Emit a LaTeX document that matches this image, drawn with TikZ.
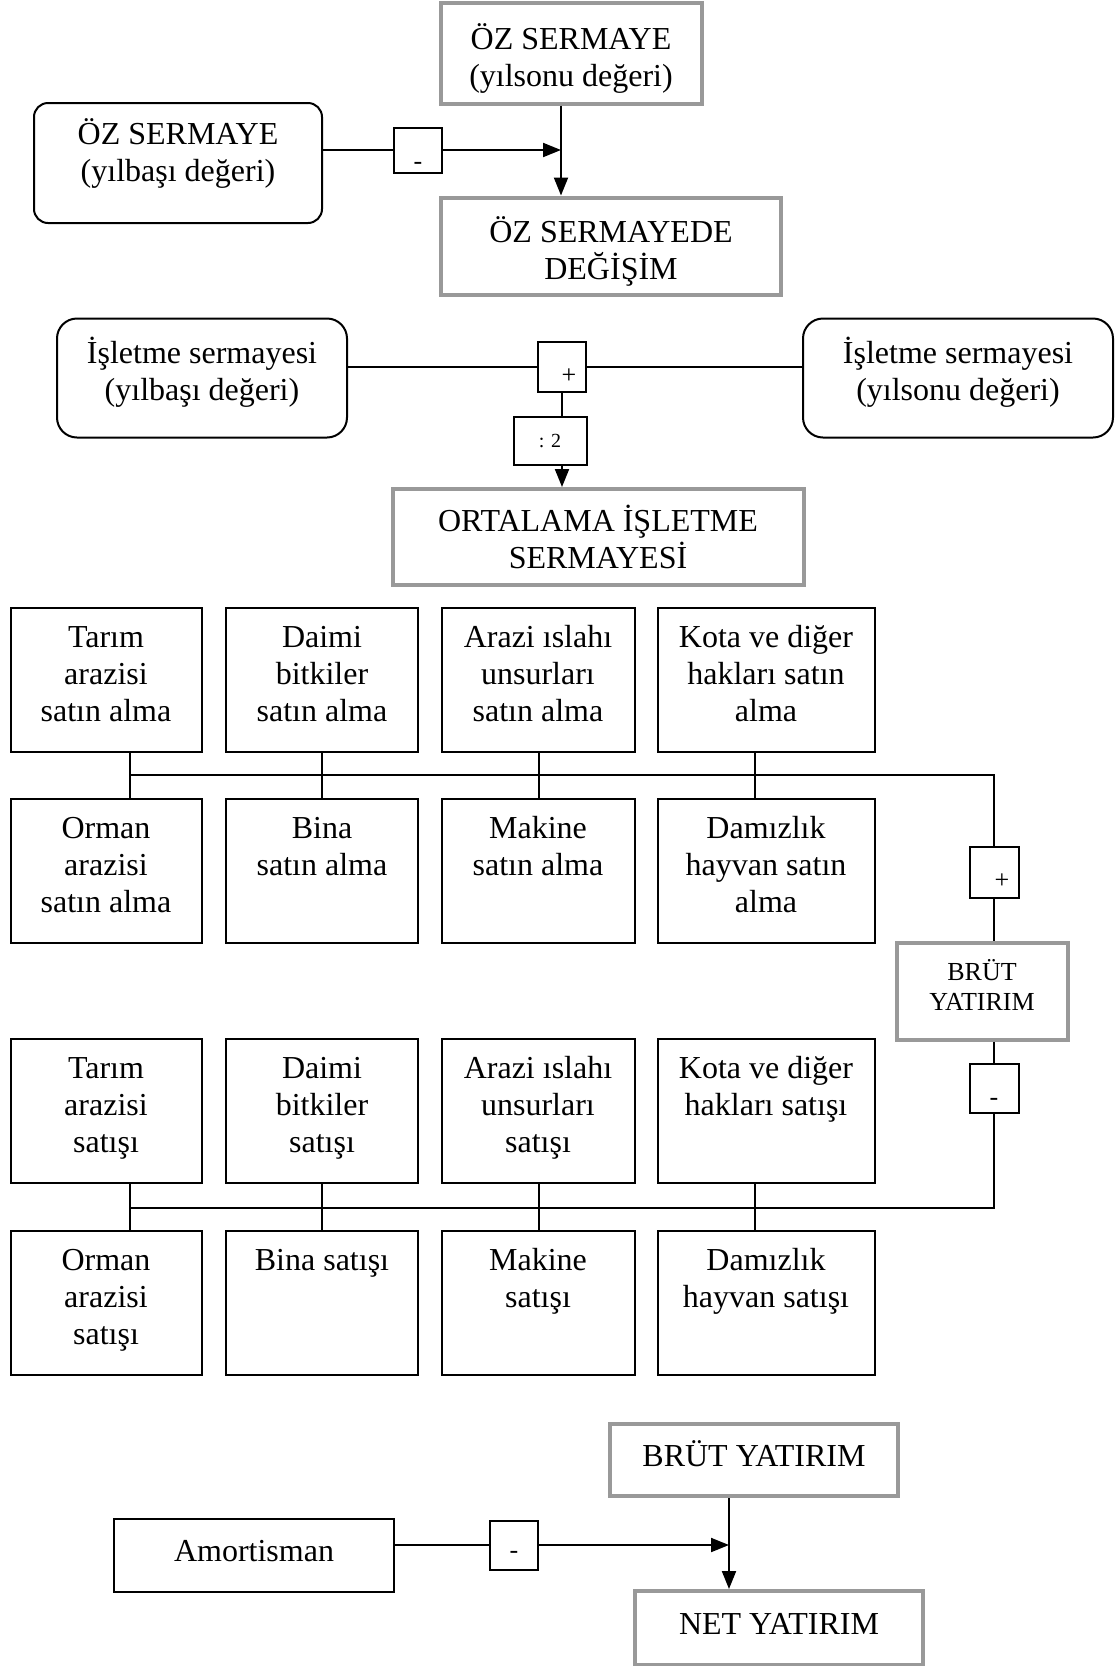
\documentclass[tikz,border=0pt]{standalone}
\usepackage{fontspec}
\setmainfont{Liberation Serif}
\usepackage{tikz}
\usetikzlibrary{arrows.meta}

\newcommand{\celltxt}[2]{\parbox[c][58pt][t]{#1}{\centering\strut #2}}
\newcommand{\signtxt}[3]{\smash{\raisebox{#2}{\kern#1 #3\kern-#1}}}

\begin{document}
\begin{tikzpicture}[x=0.5pt,y=-0.5pt,
        every node/.style={font=\fontsize{16}{18.5}\selectfont, align=center},
        graybox/.style={draw=black!40, line width=2pt, inner sep=0pt},
        roundbox/.style={draw, line width=1pt, rounded corners=7pt, inner sep=0pt},
        signbox/.style={draw, line width=1pt, fill=white, inner sep=0pt, minimum width=24pt, minimum height=24pt, font=\fontsize{13}{15}\selectfont},
        cell/.style={draw, line width=1pt, inner xsep=2pt, inner ysep=7pt, minimum height=72pt},
        oneline/.style={text height=11pt, text depth=4.2pt},
        link/.style={line width=1pt},
        arr/.style={line width=1pt, -{Triangle[length=9pt,width=7pt]}}]
        \useasboundingbox (0,0) rectangle (1115,1666);

        % oz sermaye
        \node[graybox, minimum width=130.5pt, minimum height=50.5pt] (ozson) at (571,53) {\mbox{}\\ÖZ SERMAYE\\(yılsonu değeri)};
        \node[roundbox, minimum width=144pt, minimum height=60pt] (ozbas) at (178,163) {ÖZ SERMAYE\\(yılbaşı değeri)\\[-5.6pt]\mbox{}};
        \node[signbox, minimum height=22.5pt] (m1) at (418,150) {\signtxt{0pt}{-9.7pt}{-}};
        \node[graybox, minimum width=170pt, minimum height=48.5pt] (ozdeg) at (611,246) {\mbox{}\\ÖZ SERMAYEDE\\DEĞİŞİM};
        \coordinate (j1) at (561,150);
        \draw[link] (m1.west -| ozbas.east) -- (m1.west);
        \draw[arr] (m1.east) -- (j1);
        \draw[arr] (ozson.south -| j1) -- (ozdeg.north -| j1);

        % isletme sermayesi
        \node[roundbox, rounded corners=10pt, minimum width=145pt, minimum height=59.5pt] (isbas) at (202,378) {İşletme sermayesi\\(yılbaşı değeri)\\[-9.6pt]\mbox{}};
        \node[roundbox, rounded corners=10pt, minimum width=155pt, minimum height=59.5pt] (isson) at (958,378) {İşletme sermayesi\\(yılsonu değeri)\\[-9.6pt]\mbox{}};
        \node[signbox, minimum height=25pt] (p1) at (562,367) {\signtxt{3.5pt}{-8.2pt}{+}};
        \node[signbox, minimum width=36.5pt, font=\fontsize{10}{12}\selectfont] (d2) at (550,441) {: 2};
        \node[graybox, minimum width=205.5pt, minimum height=48pt] (ortis) at (598,537) {ORTALAMA İŞLETME\\SERMAYESİ};
        \draw[link] (isbas.east |- p1.west) -- (p1.west);
        \draw[link] (p1.east) -- (isson.west |- p1.east);
        \draw[link] (p1.south) -- (p1.south |- d2.north);
        \draw[arr] (p1.south |- d2.south) -- (p1.south |- ortis.north);

        % alimlar, first row
        \node[cell, minimum width=95.5pt] (r1c1) at (106,680) {\celltxt{91pt}{Tarım\\arazisi\\satın alma}};
        \node[cell, minimum width=96pt] (r1c2) at (322,680) {\celltxt{92pt}{Daimi\\bitkiler\\satın alma}};
        \node[cell, minimum width=96.5pt] (r1c3) at (538,680) {\celltxt{92pt}{Arazi ıslahı\\unsurları\\satın alma}};
        \node[cell, minimum width=108.5pt] (r1c4) at (766,680) {\celltxt{104pt}{Kota ve diğer\\hakları satın\\alma}};
        % alimlar, sec row
        \node[cell, minimum width=95.5pt] (r2c1) at (106,871) {\celltxt{91pt}{Orman\\arazisi\\satın alma}};
        \node[cell, minimum width=96pt] (r2c2) at (322,871) {\celltxt{92pt}{Bina\\satın alma}};
        \node[cell, minimum width=96.5pt] (r2c3) at (538,871) {\celltxt{92pt}{Makine\\satın alma}};
        \node[cell, minimum width=108.5pt] (r2c4) at (766,871) {\celltxt{104pt}{Damızlık\\hayvan satın\\alma}};

        % brut yatirim on the right
        \node[signbox, minimum width=24.5pt, minimum height=25.5pt] (p2) at (994,872) {\signtxt{4pt}{-8.2pt}{+}};
        \node[graybox, minimum width=85.5pt, minimum height=48.5pt, font=\fontsize{13}{15}\selectfont] (brut1) at (982,991) {BRÜT\\YATIRIM\\[-9pt]\mbox{}};
        \node[signbox, minimum width=24.5pt, minimum height=24.5pt] (m2) at (994,1088) {\signtxt{0pt}{-8.7pt}{-}};

        % satislar, thrird row
        \node[cell, minimum width=95.5pt] (r3c1) at (106,1111) {\celltxt{91pt}{Tarım\\arazisi\\satışı}};
        \node[cell, minimum width=96pt] (r3c2) at (322,1111) {\celltxt{92pt}{Daimi\\bitkiler\\satışı}};
        \node[cell, minimum width=96.5pt] (r3c3) at (538,1111) {\celltxt{92pt}{Arazi ıslahı\\unsurları\\satışı}};
        \node[cell, minimum width=108.5pt] (r3c4) at (766,1111) {\celltxt{104pt}{Kota ve diğer\\hakları satışı}};
        % satislar, bottom row
        \node[cell, minimum width=95.5pt] (r4c1) at (106,1303) {\celltxt{91pt}{Orman\\arazisi\\satışı}};
        \node[cell, minimum width=96pt] (r4c2) at (322,1303) {\celltxt{92pt}{Bina satışı}};
        \node[cell, minimum width=96.5pt] (r4c3) at (538,1303) {\celltxt{92pt}{Makine\\satışı}};
        \node[cell, minimum width=108.5pt] (r4c4) at (766,1303) {\celltxt{104pt}{Damızlık\\hayvan satışı}};

        \foreach \i/\x in {1/130,2/322,3/539,4/755} {
            \coordinate (s\i) at (\x,775);
            \coordinate (t\i) at (\x,1208);
            \draw[link] (r1c\i.south -| s\i) -- (r2c\i.north -| s\i);
            \draw[link] (r3c\i.south -| t\i) -- (r4c\i.north -| t\i);
        }
        \coordinate (k1) at (994,775);
        \coordinate (k2) at (994,1208);
        \draw[link] (s1) -- (k1) -- (p2.north);
        \draw[link] (p2.south) -- (brut1.north -| p2.south);
        \draw[link] (brut1.south -| m2.north) -- (m2.north);
        \draw[link] (m2.south) -- (k2) -- (t1);

        % net yatirim
        \node[graybox, oneline, minimum width=144pt, minimum height=36pt] (brut2) at (754,1460) {BRÜT YATIRIM};
        \node[draw, oneline, line width=1pt, inner sep=0pt, minimum width=140pt, minimum height=36.5pt] (amort) at (254,1555) {Amortisman};
        \node[signbox, minimum height=24.5pt] (m3) at (514,1545) {\signtxt{0pt}{-6.7pt}{-}};
        \node[graybox, oneline, minimum width=144pt, minimum height=37pt] (net) at (779,1628) {NET YATIRIM};
        \coordinate (j3) at (729,1545);
        \draw[link] (m3.west -| amort.east) -- (m3.west);
        \draw[arr] (m3.east) -- (j3);
        \draw[arr] (brut2.south -| j3) -- (net.north -| j3);
    \end{tikzpicture}
\end{document}
